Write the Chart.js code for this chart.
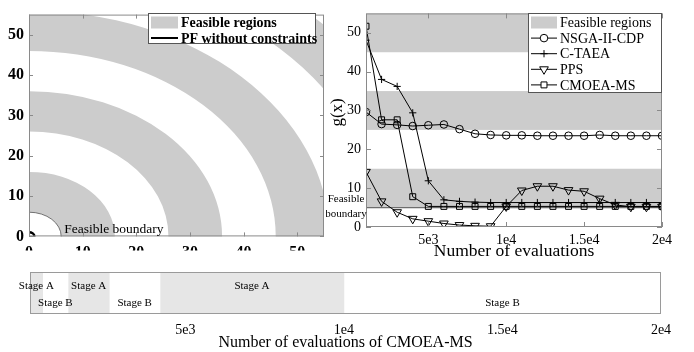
<!DOCTYPE html>
<html>
<head>
<meta charset="utf-8">
<script src="https://cdn.jsdelivr.net/npm/chart.js@4.4.0/dist/chart.umd.min.js"></script>
<style>
  body { margin: 0; background: #fff; }
  #wrap { position: relative; width: 694px; height: 352px; overflow: hidden; background: #fff; }
  canvas { position: absolute; }
</style>
</head>
<body>
<div id="wrap">
  <canvas id="ringChart" width="334" height="251" style="left:0;top:0"></canvas>
  <canvas id="gChart" width="368" height="262" style="left:326px;top:0"></canvas>
  <canvas id="stageChart" width="694" height="90" style="left:0;top:262px"></canvas>
</div>
<script>
// ---- objective space: feasible rings (radius = 1 + g) ----
const ringInner = [6, 26, 46, 66];
const ringOuter = [16, 36, 56, 76];
const boundaryRadius = 6;
const pfRadius = 1;
const objTicks = [0, 10, 20, 30, 40, 50];

// ---- g(x) against number of evaluations ----
const evals = [1000, 2000, 3000, 4000, 5000, 6000, 7000, 8000, 9000, 10000,
               11000, 12000, 13000, 14000, 15000, 16000, 17000, 18000, 19000, 20000];
const nsga  = [29.6, 26.5, 26.3, 26.0, 26.2, 26.4, 25.2, 24.0, 23.7, 23.6,
               23.6, 23.5, 23.5, 23.5, 23.5, 23.7, 23.5, 23.5, 23.5, 23.5];
const ctaea = [48.1, 38.0, 36.2, 29.4, 11.9, 7.0, 6.6, 6.4, 6.3, 6.3,
               6.3, 6.3, 6.3, 6.3, 6.3, 6.3, 6.3, 6.3, 6.3, 6.3];
const pps   = [14.2, 6.6, 3.8, 2.1, 1.5, 0.9, 0.5, 0.3, 0.2, 5.3,
               9.4, 10.5, 10.5, 9.5, 9.2, 7.3, 5.7, 5.2, 5.2, 5.2];
const cmoea = [51.7, 27.6, 27.6, 7.8, 5.3, 5.3, 5.3, 5.3, 5.3, 5.3,
               5.3, 5.3, 5.3, 5.3, 5.3, 5.3, 5.3, 5.3, 5.3, 5.3];
const gBandLow  = [5, 25, 45];
const gBandHigh = [15, 35, 55];
const gBoundary = 5;
const gTicks = [0, 10, 20, 30, 40, 50];
const evalTicks = [5000, 10000, 15000, 20000];
const evalTickLabels = ['5e3', '1e4', '1.5e4', '2e4'];

// ---- CMOEA-MS stages ----
const stageNames = ['Stage A', 'Stage B', 'Stage A', 'Stage B', 'Stage A', 'Stage B'];
const stageStart = [100, 500, 1300, 2600, 4200, 10000];
const stageEnd   = [500, 1300, 2600, 4200, 10000, 20000];

const SERIF = '"Liberation Serif", "Times New Roman", serif';
const BAND = '#cccccc';
const AXIS = '#8a8a8a';

function fixTicks(values) {
  return s => { s.ticks = values.map(v => ({ value: v })); };
}

// box around the plot area with MATLAB style inward ticks
const frame = {
  id: 'frame',
  afterDatasetsDraw(chart, args, opts) {
    const { ctx, chartArea: a, scales } = chart;
    ctx.save();
    ctx.strokeStyle = opts.color || AXIS;
    ctx.lineWidth = 1;
    ctx.strokeRect(a.left + 0.5, a.top + 0.5, a.width - 1, a.height - 1);
    if (opts.tick) {
      ctx.beginPath();
      scales.x.ticks.forEach(t => {
        const px = Math.round(scales.x.getPixelForValue(t.value)) + 0.5;
        ctx.moveTo(px, a.bottom); ctx.lineTo(px, a.bottom - opts.tick);
        ctx.moveTo(px, a.top); ctx.lineTo(px, a.top + opts.tick);
      });
      scales.y.ticks.forEach(t => {
        const py = Math.round(scales.y.getPixelForValue(t.value)) + 0.5;
        ctx.moveTo(a.left, py); ctx.lineTo(a.left + opts.tick, py);
        ctx.moveTo(a.right, py); ctx.lineTo(a.right - opts.tick, py);
      });
      ctx.stroke();
    }
    ctx.restore();
  }
};

function drawMarker(ctx, style, rotation, radius, x, y) {
  if (Chart.helpers && Chart.helpers.drawPoint) {
    Chart.helpers.drawPoint(ctx, { pointStyle: style, rotation: rotation, radius: radius, borderWidth: 1 }, x, y);
  }
}

// legend box: items are {type:'patch'|'line', text, marker, rotation, radius, width}
function drawLegend(ctx, box, items, font, rowH, sampleW) {
  ctx.save();
  ctx.fillStyle = '#fff';
  ctx.fillRect(box.x, box.y, box.w, box.h);
  ctx.strokeStyle = '#555';
  ctx.lineWidth = 1;
  ctx.strokeRect(box.x + 0.5, box.y + 0.5, box.w - 1, box.h - 1);
  ctx.font = font;
  ctx.textBaseline = 'middle';
  items.forEach((it, i) => {
    const cy = box.y + box.first + i * rowH;
    const x0 = box.x + 3;
    if (it.type === 'patch') {
      ctx.fillStyle = BAND;
      ctx.fillRect(x0, cy - 6, sampleW, 12);
    } else {
      ctx.strokeStyle = '#000';
      ctx.lineWidth = it.width || 1;
      ctx.beginPath();
      ctx.moveTo(x0, cy); ctx.lineTo(x0 + sampleW, cy);
      ctx.stroke();
      if (it.marker) {
        ctx.lineWidth = 1;
        ctx.fillStyle = '#fff';
        drawMarker(ctx, it.marker, it.rotation || 0, it.radius, x0 + sampleW / 2, cy);
      }
    }
    ctx.fillStyle = '#000';
    ctx.fillText(it.text, x0 + sampleW + 3, cy + 1);
  });
  ctx.restore();
}

//************** left: objective space */
const rings = {
  id: 'rings',
  beforeDatasetsDraw(chart) {
    const { ctx, chartArea: a, scales: { x, y } } = chart;
    const cx = x.getPixelForValue(0), cy = y.getPixelForValue(0);
    const rx = r => x.getPixelForValue(r) - cx;
    const ry = r => cy - y.getPixelForValue(r);
    ctx.save();
    ctx.beginPath();
    ctx.rect(a.left, a.top, a.width, a.height);
    ctx.clip();
    ctx.fillStyle = BAND;
    ringInner.forEach((r0, i) => {
      const r1 = ringOuter[i];
      ctx.beginPath();
      ctx.ellipse(cx, cy, rx(r1), ry(r1), 0, 0, 2 * Math.PI);
      ctx.moveTo(cx + rx(r0), cy);
      ctx.ellipse(cx, cy, rx(r0), ry(r0), 0, 0, 2 * Math.PI);
      ctx.fill('evenodd');
    });
    // feasible boundary
    ctx.strokeStyle = '#555';
    ctx.lineWidth = 0.8;
    ctx.beginPath();
    ctx.ellipse(cx, cy, rx(boundaryRadius), ry(boundaryRadius), 0, 0, 2 * Math.PI);
    ctx.stroke();
    // unconstrained PF
    ctx.strokeStyle = '#000';
    ctx.lineWidth = 2.5;
    ctx.beginPath();
    ctx.ellipse(cx, cy, rx(pfRadius), ry(pfRadius), 0, 0, 2 * Math.PI);
    ctx.stroke();
    ctx.restore();
  },
  afterDraw(chart) {
    const { ctx, scales: { x, y } } = chart;
    ctx.save();
    ctx.font = '13.5px ' + SERIF;
    ctx.fillStyle = '#000';
    ctx.textBaseline = 'alphabetic';
    ctx.fillText('Feasible boundary', x.getPixelForValue(boundaryRadius) + 3, y.getPixelForValue(0) - 3);
    ctx.restore();
    drawLegend(ctx, { x: 148, y: 13, w: 168, h: 31, first: 9.5 }, [
      { type: 'patch', text: 'Feasible regions' },
      { type: 'line', text: 'PF without constraints', width: 2 }
    ], 'bold 14px ' + SERIF, 15.5, 27);
  }
};

const boldTicks = { color: '#000', font: { family: SERIF, size: 16, weight: 'bold' } };

new Chart(document.getElementById('ringChart'), {
  type: 'scatter',
  data: { datasets: [] },
  options: {
    responsive: false,
    animation: false,
    layout: { padding: { top: 5, right: 10, left: 0, bottom: 0 } },
    plugins: { legend: { display: false }, tooltip: { enabled: false }, frame: { tick: 4 } },
    scales: {
      x: {
        min: 0, max: 55,
        afterBuildTicks: fixTicks(objTicks),
        afterFit: s => { s.height = 14; },
        grid: { display: false, drawTicks: false },
        border: { display: false },
        ticks: Object.assign({ padding: 7, maxRotation: 0 }, boldTicks)
      },
      y: {
        min: 0, max: 55,
        afterBuildTicks: fixTicks(objTicks),
        afterFit: s => { s.width = 29; },
        grid: { display: false, drawTicks: false },
        border: { display: false },
        ticks: Object.assign({ padding: 5 }, boldTicks)
      }
    }
  },
  plugins: [rings, frame]
});

//************** right: g(x) per evaluation */
function series(label, values, pointStyle, radius, rotation) {
  return {
    label: label,
    data: evals.map((e, i) => ({ x: e, y: values[i] })),
    borderColor: '#000',
    borderWidth: 1,
    pointStyle: pointStyle,
    pointRadius: radius,
    pointRotation: rotation || 0,
    pointBorderColor: '#000',
    pointBorderWidth: 1,
    pointBackgroundColor: 'rgba(0,0,0,0)',
    fill: false,
    tension: 0
  };
}

const bands = {
  id: 'bands',
  beforeDatasetsDraw(chart) {
    const { ctx, chartArea: a, scales: { y } } = chart;
    ctx.save();
    ctx.fillStyle = BAND;
    gBandLow.forEach((lo, i) => {
      const top = Math.max(a.top, y.getPixelForValue(gBandHigh[i]));
      const bot = y.getPixelForValue(lo);
      ctx.fillRect(a.left, top, a.width, bot - top);
    });
    const yb = y.getPixelForValue(gBoundary);
    ctx.strokeStyle = '#6e6e6e';
    ctx.lineWidth = 1.2;
    ctx.beginPath();
    ctx.moveTo(a.left, yb); ctx.lineTo(a.right, yb);
    ctx.stroke();
    ctx.restore();
  },
  afterDraw(chart) {
    const { ctx, chartArea: a, scales: { y } } = chart;
    const yb = y.getPixelForValue(gBoundary);
    ctx.save();
    ctx.font = '11px ' + SERIF;
    ctx.fillStyle = '#000';
    ctx.textAlign = 'center';
    ctx.textBaseline = 'middle';
    ctx.fillText('Feasible', a.left - 20, yb - 8);
    ctx.fillText('boundary', a.left - 20, yb + 7);
    // y axis title, a little above the middle of the axis
    ctx.font = '17px ' + SERIF;
    ctx.translate(12, y.getPixelForValue(29.5));
    ctx.rotate(-Math.PI / 2);
    ctx.fillText('g(x)', 0, 0);
    ctx.restore();
    drawLegend(ctx, { x: 202, y: 13, w: 134, h: 80, first: 9.5 }, [
      { type: 'patch', text: 'Feasible regions' },
      { type: 'line', text: 'NSGA-II-CDP', marker: 'circle', radius: 3.8 },
      { type: 'line', text: 'C-TAEA', marker: 'cross', radius: 3.6 },
      { type: 'line', text: 'PPS', marker: 'triangle', rotation: 180, radius: 5 },
      { type: 'line', text: 'CMOEA-MS', marker: 'rect', radius: 4.2 }
    ], '14px ' + SERIF, 15.6, 26);
  }
};

const plainTicks = { color: '#000', font: { family: SERIF, size: 14 } };

new Chart(document.getElementById('gChart'), {
  type: 'line',
  data: {
    datasets: [
      series('NSGA-II-CDP', nsga, 'circle', 3.8),
      series('C-TAEA', ctaea, 'cross', 3.6),
      series('PPS', pps, 'triangle', 5, 180),
      series('CMOEA-MS', cmoea, 'rect', 4.2)
    ]
  },
  options: {
    responsive: false,
    animation: false,
    layout: { padding: { top: 5, right: 32, left: 0, bottom: 0 } },
    plugins: { legend: { display: false }, tooltip: { enabled: false }, frame: { tick: 5 } },
    scales: {
      x: {
        type: 'linear',
        min: 1000, max: 20000,
        afterBuildTicks: fixTicks(evalTicks),
        afterFit: s => { s.height = 35; },
        grid: { display: false, drawTicks: false },
        border: { display: false },
        ticks: Object.assign({
          padding: 5, maxRotation: 0,
          callback: v => evalTickLabels[evalTicks.indexOf(v)]
        }, plainTicks),
        title: {
          display: true, text: 'Number of evaluations', color: '#000',
          font: { family: SERIF, size: 17.5 }, padding: { top: 0, bottom: 0 }
        }
      },
      y: {
        min: 0, max: 55,
        afterBuildTicks: fixTicks(gTicks),
        afterFit: s => { s.width = 40; },
        grid: { display: false, drawTicks: false },
        border: { display: false },
        ticks: Object.assign({ padding: 5 }, plainTicks)
      }
    }
  },
  plugins: [bands, frame]
});

//************** bottom: CMOEA-MS stages */
const stageLabels = {
  id: 'stageLabels',
  afterDatasetsDraw(chart) {
    const { ctx, chartArea: a } = chart;
    const mid = (a.top + a.bottom) / 2;
    ctx.save();
    ctx.font = '11px ' + SERIF;
    ctx.fillStyle = '#000';
    ctx.textAlign = 'center';
    ctx.textBaseline = 'middle';
    chart.data.datasets.forEach((ds, i) => {
      const bar = chart.getDatasetMeta(i).data[0];
      const cx = (bar.x + bar.base) / 2;
      ctx.fillText(ds.label, cx, ds.label === 'Stage A' ? mid - 7 : mid + 10);
    });
    ctx.restore();
  }
};

new Chart(document.getElementById('stageChart'), {
  type: 'bar',
  data: {
    labels: [''],
    datasets: stageNames.map((name, i) => ({
      label: name,
      data: [[stageStart[i], stageEnd[i]]],
      backgroundColor: name === 'Stage A' ? '#e6e6e6' : '#ffffff',
      borderWidth: 0,
      barPercentage: 1,
      categoryPercentage: 1,
      grouped: false
    }))
  },
  options: {
    indexAxis: 'y',
    responsive: false,
    animation: false,
    layout: { padding: { top: 10, right: 33, left: 30, bottom: 0 } },
    plugins: { legend: { display: false }, tooltip: { enabled: false }, frame: { tick: 0, color: '#9a9a9a' } },
    scales: {
      x: {
        type: 'linear',
        min: 100, max: 20000,
        afterBuildTicks: fixTicks(evalTicks),
        afterFit: s => { s.height = 38; },
        grid: { display: false, drawTicks: false },
        border: { display: false },
        ticks: Object.assign({
          padding: 8, maxRotation: 0,
          callback: v => evalTickLabels[evalTicks.indexOf(v)]
        }, plainTicks),
        title: {
          display: true, text: 'Number of evaluations of CMOEA-MS', color: '#000',
          font: { family: SERIF, size: 16 }, padding: { top: 0, bottom: 0 }
        }
      },
      y: { display: false }
    }
  },
  plugins: [frame, stageLabels]
});
</script>
</body>
</html>
